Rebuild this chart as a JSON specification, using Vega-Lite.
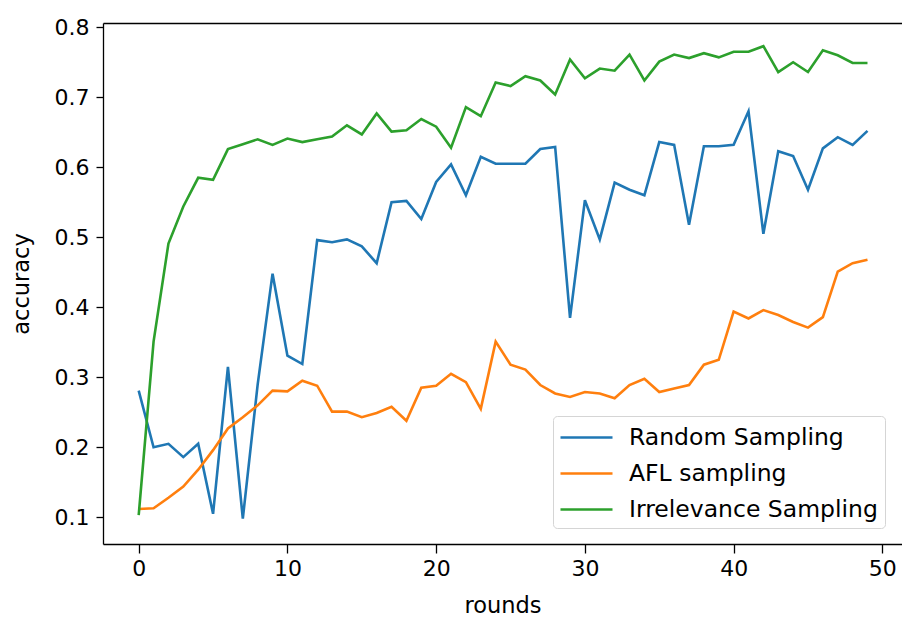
{
  "$schema": "https://vega.github.io/schema/vega-lite/v6.json",
  "width": 799,
  "height": 521,
  "autosize": "none",
  "padding": {"left": 103, "top": 23, "right": 0, "bottom": 73},
  "background": "white",
  "config": {
    "view": {"stroke": null},
    "font": "DejaVu Sans",
    "axis": {
      "labelFont": "DejaVu Sans",
      "titleFont": "DejaVu Sans",
      "labelFontSize": 22,
      "titleFontSize": 22.5,
      "titleFontWeight": "normal",
      "labelColor": "#000000",
      "titleColor": "#000000",
      "domainColor": "#000000",
      "domainWidth": 1.3,
      "tickColor": "#000000",
      "tickWidth": 1.3,
      "tickSize": 7,
      "grid": false
    },
    "legend": {
      "labelFont": "DejaVu Sans",
      "labelFontSize": 23.5,
      "labelColor": "#000000",
      "labelLimit": 500
    }
  },
  "data": {
    "values": [
      {"round": 0, "Random Sampling": 0.281, "AFL sampling": 0.112, "Irrelevance Sampling": 0.103},
      {"round": 1, "Random Sampling": 0.200, "AFL sampling": 0.113, "Irrelevance Sampling": 0.351},
      {"round": 2, "Random Sampling": 0.205, "AFL sampling": 0.128, "Irrelevance Sampling": 0.491},
      {"round": 3, "Random Sampling": 0.186, "AFL sampling": 0.144, "Irrelevance Sampling": 0.544},
      {"round": 4, "Random Sampling": 0.205, "AFL sampling": 0.168, "Irrelevance Sampling": 0.585},
      {"round": 5, "Random Sampling": 0.105, "AFL sampling": 0.196, "Irrelevance Sampling": 0.582},
      {"round": 6, "Random Sampling": 0.315, "AFL sampling": 0.227, "Irrelevance Sampling": 0.626},
      {"round": 7, "Random Sampling": 0.098, "AFL sampling": 0.243, "Irrelevance Sampling": 0.633},
      {"round": 8, "Random Sampling": 0.290, "AFL sampling": 0.260, "Irrelevance Sampling": 0.640},
      {"round": 9, "Random Sampling": 0.448, "AFL sampling": 0.281, "Irrelevance Sampling": 0.632},
      {"round": 10, "Random Sampling": 0.331, "AFL sampling": 0.280, "Irrelevance Sampling": 0.641},
      {"round": 11, "Random Sampling": 0.319, "AFL sampling": 0.295, "Irrelevance Sampling": 0.636},
      {"round": 12, "Random Sampling": 0.496, "AFL sampling": 0.288, "Irrelevance Sampling": 0.640},
      {"round": 13, "Random Sampling": 0.493, "AFL sampling": 0.251, "Irrelevance Sampling": 0.644},
      {"round": 14, "Random Sampling": 0.497, "AFL sampling": 0.251, "Irrelevance Sampling": 0.660},
      {"round": 15, "Random Sampling": 0.487, "AFL sampling": 0.243, "Irrelevance Sampling": 0.647},
      {"round": 16, "Random Sampling": 0.463, "AFL sampling": 0.249, "Irrelevance Sampling": 0.677},
      {"round": 17, "Random Sampling": 0.550, "AFL sampling": 0.258, "Irrelevance Sampling": 0.651},
      {"round": 18, "Random Sampling": 0.552, "AFL sampling": 0.238, "Irrelevance Sampling": 0.653},
      {"round": 19, "Random Sampling": 0.526, "AFL sampling": 0.285, "Irrelevance Sampling": 0.669},
      {"round": 20, "Random Sampling": 0.579, "AFL sampling": 0.288, "Irrelevance Sampling": 0.658},
      {"round": 21, "Random Sampling": 0.604, "AFL sampling": 0.305, "Irrelevance Sampling": 0.628},
      {"round": 22, "Random Sampling": 0.560, "AFL sampling": 0.293, "Irrelevance Sampling": 0.686},
      {"round": 23, "Random Sampling": 0.615, "AFL sampling": 0.255, "Irrelevance Sampling": 0.673},
      {"round": 24, "Random Sampling": 0.605, "AFL sampling": 0.351, "Irrelevance Sampling": 0.721},
      {"round": 25, "Random Sampling": 0.605, "AFL sampling": 0.318, "Irrelevance Sampling": 0.716},
      {"round": 26, "Random Sampling": 0.605, "AFL sampling": 0.311, "Irrelevance Sampling": 0.730},
      {"round": 27, "Random Sampling": 0.626, "AFL sampling": 0.289, "Irrelevance Sampling": 0.724},
      {"round": 28, "Random Sampling": 0.629, "AFL sampling": 0.277, "Irrelevance Sampling": 0.704},
      {"round": 29, "Random Sampling": 0.385, "AFL sampling": 0.272, "Irrelevance Sampling": 0.754},
      {"round": 30, "Random Sampling": 0.553, "AFL sampling": 0.279, "Irrelevance Sampling": 0.727},
      {"round": 31, "Random Sampling": 0.497, "AFL sampling": 0.277, "Irrelevance Sampling": 0.741},
      {"round": 32, "Random Sampling": 0.578, "AFL sampling": 0.270, "Irrelevance Sampling": 0.738},
      {"round": 33, "Random Sampling": 0.568, "AFL sampling": 0.289, "Irrelevance Sampling": 0.761},
      {"round": 34, "Random Sampling": 0.560, "AFL sampling": 0.298, "Irrelevance Sampling": 0.724},
      {"round": 35, "Random Sampling": 0.636, "AFL sampling": 0.279, "Irrelevance Sampling": 0.751},
      {"round": 36, "Random Sampling": 0.632, "AFL sampling": 0.284, "Irrelevance Sampling": 0.761},
      {"round": 37, "Random Sampling": 0.518, "AFL sampling": 0.289, "Irrelevance Sampling": 0.756},
      {"round": 38, "Random Sampling": 0.630, "AFL sampling": 0.318, "Irrelevance Sampling": 0.763},
      {"round": 39, "Random Sampling": 0.630, "AFL sampling": 0.325, "Irrelevance Sampling": 0.757},
      {"round": 40, "Random Sampling": 0.632, "AFL sampling": 0.394, "Irrelevance Sampling": 0.765},
      {"round": 41, "Random Sampling": 0.680, "AFL sampling": 0.384, "Irrelevance Sampling": 0.765},
      {"round": 42, "Random Sampling": 0.505, "AFL sampling": 0.396, "Irrelevance Sampling": 0.773},
      {"round": 43, "Random Sampling": 0.623, "AFL sampling": 0.389, "Irrelevance Sampling": 0.736},
      {"round": 44, "Random Sampling": 0.616, "AFL sampling": 0.379, "Irrelevance Sampling": 0.750},
      {"round": 45, "Random Sampling": 0.568, "AFL sampling": 0.371, "Irrelevance Sampling": 0.736},
      {"round": 46, "Random Sampling": 0.627, "AFL sampling": 0.386, "Irrelevance Sampling": 0.767},
      {"round": 47, "Random Sampling": 0.643, "AFL sampling": 0.451, "Irrelevance Sampling": 0.760},
      {"round": 48, "Random Sampling": 0.632, "AFL sampling": 0.463, "Irrelevance Sampling": 0.749},
      {"round": 49, "Random Sampling": 0.652, "AFL sampling": 0.468, "Irrelevance Sampling": 0.749}
    ]
  },
  "transform": [
    {"fold": ["Random Sampling", "AFL sampling", "Irrelevance Sampling"], "as": ["series", "accuracy"]}
  ],
  "layer": [
    {
      "mark": {"type": "line", "strokeWidth": 2.6, "clip": true},
      "encoding": {
        "x": {
          "field": "round", "type": "quantitative",
          "scale": {"domain": [-2.4, 51.32], "nice": false, "zero": false},
          "axis": {"values": [0, 10, 20, 30, 40, 50], "title": "rounds", "tickSize": 9, "labelPadding": 5, "titlePadding": 15}
        },
        "y": {
          "field": "accuracy", "type": "quantitative",
          "scale": {"domain": [0.0619, 0.8061], "nice": false, "zero": false},
          "axis": {"values": [0.1, 0.2, 0.3, 0.4, 0.5, 0.6, 0.7, 0.8], "format": ".1f", "title": "accuracy", "labelPadding": 7, "titlePadding": 21}
        },
        "color": {
          "field": "series", "type": "nominal",
          "scale": {
            "domain": ["Random Sampling", "AFL sampling", "Irrelevance Sampling"],
            "range": ["#1f77b4", "#ff7f0e", "#2ca02c"]
          },
          "legend": {
            "title": null,
            "orient": "none",
            "legendX": 450,
            "legendY": 393,
            "symbolType": "M-2,0H2",
            "symbolSize": 676,
            "symbolStrokeWidth": 2.6,
            "symbolOffset": 12,
            "labelOffset": 28,
            "rowPadding": 10,
            "padding": 7,
            "strokeColor": "#d5d5d5",
            "fillColor": "white",
            "cornerRadius": 4
          }
        }
      }
    },
    {
      "mark": {"type": "line", "opacity": 0},
      "encoding": {
        "x": {
          "field": "round", "type": "quantitative",
          "scale": {"domain": [-2.4, 51.32], "nice": false, "zero": false},
          "axis": {"orient": "top", "labels": false, "ticks": false, "title": null, "domain": true}
        },
        "y": {"field": "accuracy", "type": "quantitative"}
      }
    }
  ],
  "resolve": {"axis": {"x": "independent"}}
}
